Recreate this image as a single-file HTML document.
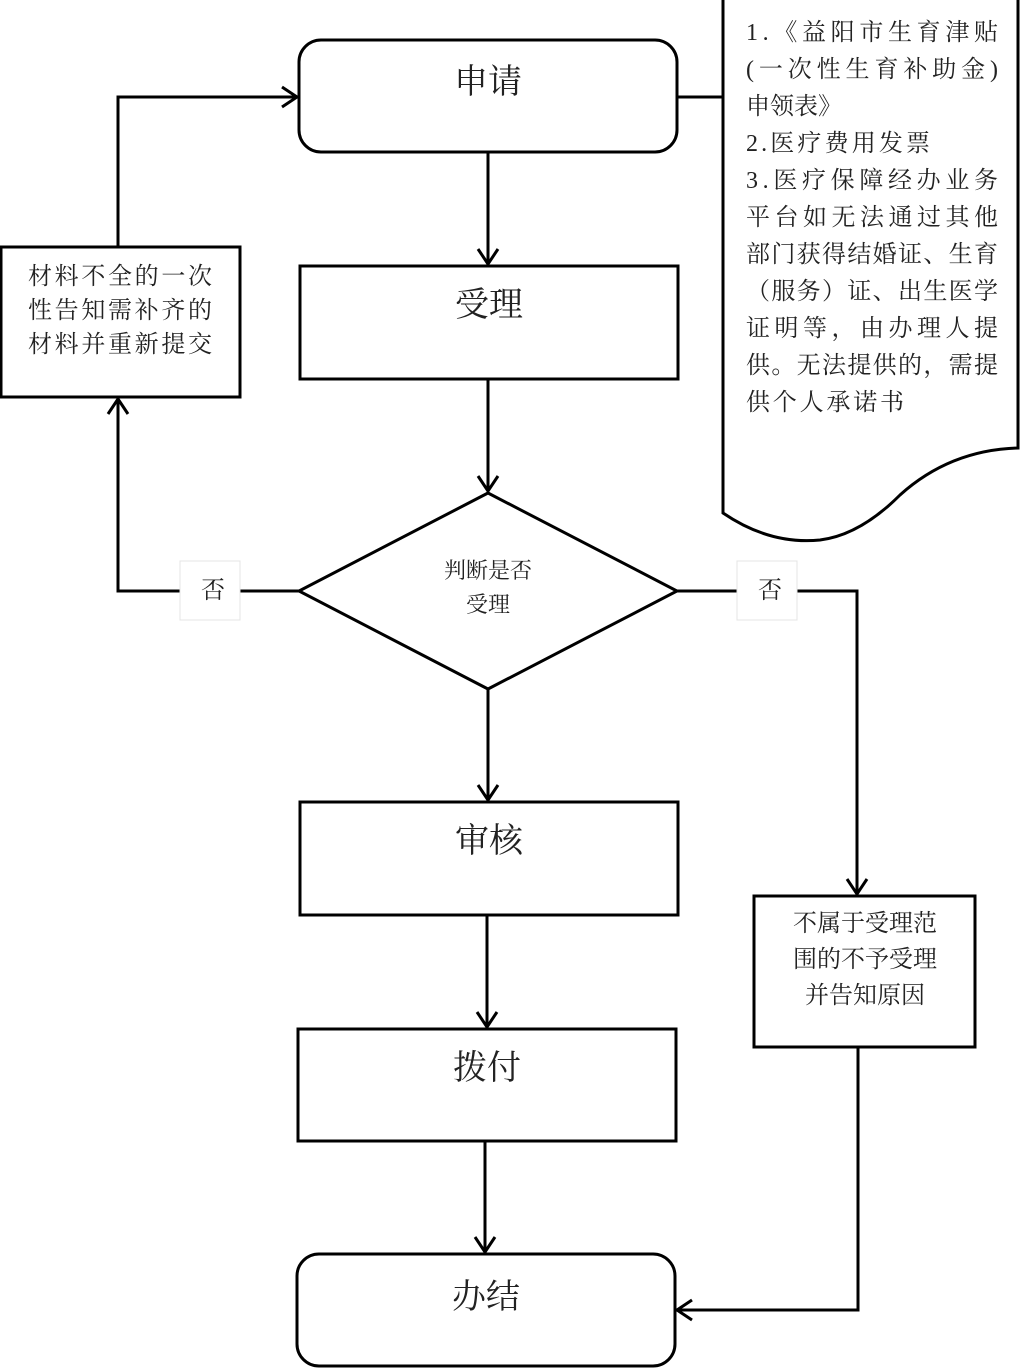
<!DOCTYPE html>
<html><head><meta charset="utf-8"><style>
html,body{margin:0;padding:0;background:#fff;}
svg{display:block;}
text{font-family:"Liberation Serif","Noto Serif CJK SC","Noto Sans CJK SC",serif;fill:#222;}
</style></head><body>
<svg width="1022" height="1372" viewBox="0 0 1022 1372" xmlns="http://www.w3.org/2000/svg">
<g fill="none" stroke="#000" stroke-width="3">
<rect x="299" y="40" width="378" height="112" rx="22"/>
<rect x="300" y="266" width="378" height="113"/>
<polygon points="488,493 677,591 488,689 299,591"/>
<rect x="300" y="802" width="378" height="113"/>
<rect x="298" y="1029" width="378" height="112"/>
<rect x="297" y="1254" width="378" height="112" rx="22"/>
<rect x="1" y="247" width="239" height="150"/>
<rect x="754" y="896" width="221" height="151"/>
<path d="M723,-2 V513 Q770,545 820,540 Q860,535 900,495 Q950,450 1018,448 V-2"/>
<path d="M488,152 V264 M478,249 L488,264 L498,249"/>
<path d="M488,379 V491 M478,476 L488,491 L498,476"/>
<path d="M488,689 V800 M478,785 L488,800 L498,785"/>
<path d="M487,915 V1027 M477,1012 L487,1027 L497,1012"/>
<path d="M485,1141 V1252 M475,1237 L485,1252 L495,1237"/>
<path d="M299,591 H118 V399 M108,414 L118,399 L128,414"/>
<path d="M118,247 V97 H297 M282,87 L297,97 L282,107"/>
<path d="M677,591 H857 V894 M847,879 L857,894 L867,879"/>
<path d="M858,1047 V1310 H677 M692,1300 L677,1310 L692,1320"/>
<path d="M677,97 H723"/>
</g>
<rect x="180" y="561" width="60" height="59" fill="#fff" stroke="#e4e4e4" stroke-width="1"/>
<rect x="737" y="561" width="60" height="59" fill="#fff" stroke="#e4e4e4" stroke-width="1"/>
<g font-size="24" text-anchor="middle">
<text x="213" y="598">否</text>
<text x="770" y="598">否</text>
</g>
<g font-size="34" text-anchor="middle">
<text x="488" y="93">申请</text>
<text x="489" y="316">受理</text>
<text x="489" y="852">审核</text>
<text x="487" y="1079">拨付</text>
<text x="486" y="1308">办结</text>
</g>
<g font-size="22" text-anchor="middle">
<text x="488" y="578">判断是否</text>
<text x="488" y="612">受理</text>
</g>
<g font-size="24">
<text x="28" y="284" textLength="184" lengthAdjust="spacing">材料不全的一次</text>
<text x="28" y="318" textLength="184" lengthAdjust="spacing">性告知需补齐的</text>
<text x="28" y="352" textLength="184" lengthAdjust="spacing">材料并重新提交</text>
</g>
<g font-size="24" text-anchor="middle">
<text x="865" y="931">不属于受理范</text>
<text x="865" y="967">围的不予受理</text>
<text x="865" y="1003">并告知原因</text>
</g>
<g font-size="24">
<text x="746" y="40" textLength="252" lengthAdjust="spacing">1.《益阳市生育津贴</text>
<text x="746" y="77" textLength="252" lengthAdjust="spacing">(一次性生育补助金)</text>
<text x="746" y="114" textLength="96" lengthAdjust="spacing">申领表》</text>
<text x="746" y="151" textLength="184" lengthAdjust="spacing">2.医疗费用发票</text>
<text x="746" y="188" textLength="252" lengthAdjust="spacing">3.医疗保障经办业务</text>
<text x="746" y="225" textLength="252" lengthAdjust="spacing">平台如无法通过其他</text>
<text x="746" y="262" textLength="252" lengthAdjust="spacing">部门获得结婚证、生育</text>
<text x="746" y="299" textLength="252" lengthAdjust="spacing">（服务）证、出生医学</text>
<text x="746" y="336" textLength="252" lengthAdjust="spacing">证明等，由办理人提</text>
<text x="746" y="373" textLength="252" lengthAdjust="spacing">供。无法提供的，需提</text>
<text x="746" y="410" textLength="158" lengthAdjust="spacing">供个人承诺书</text>
</g>
</svg>
</body></html>
